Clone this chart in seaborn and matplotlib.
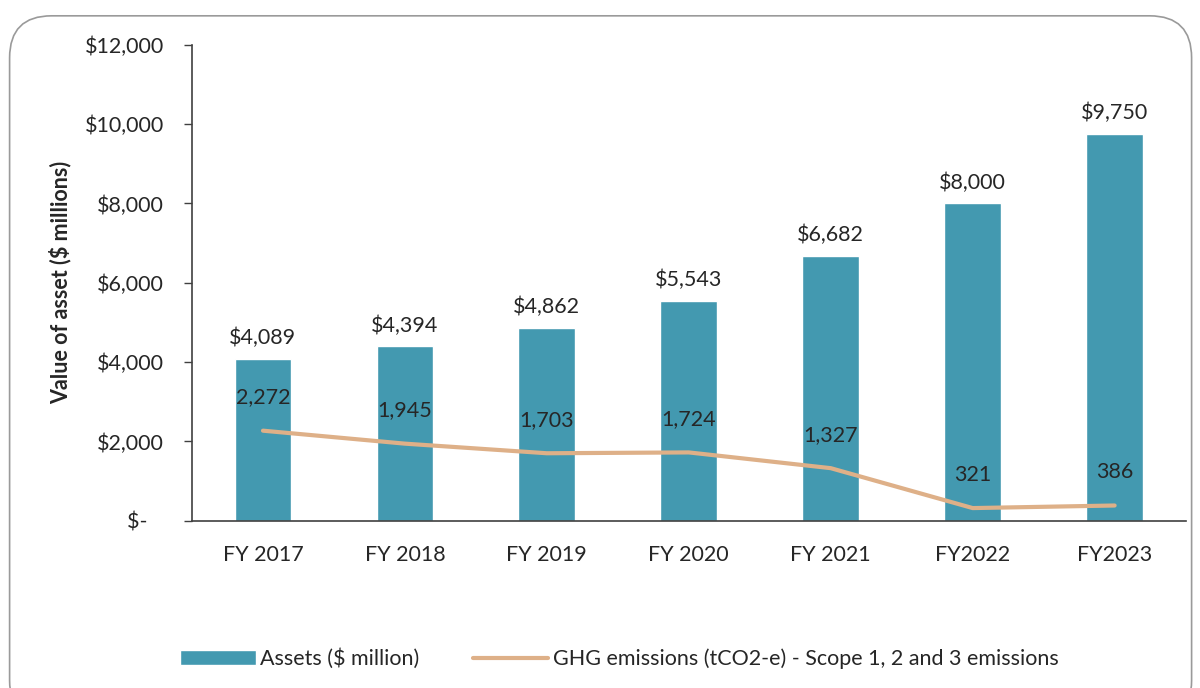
import matplotlib.pyplot as plt
import seaborn as sns
import pandas as pd
from matplotlib.patches import FancyBboxPatch
from matplotlib.ticker import FuncFormatter

years = ['FY 2017', 'FY 2018', 'FY 2019', 'FY 2020', 'FY 2021', 'FY2022', 'FY2023']
assets = [4089, 4394, 4862, 5543, 6682, 8000, 9750]
ghg = [2272, 1945, 1703, 1724, 1327, 321, 386]

bar_color = '#4399B0'
line_color = '#DEB088'

sns.set_style("white")
plt.rcParams['font.family'] = ['Lato', 'DejaVu Sans']
fs = 15.5

df = pd.DataFrame({'year': years, 'assets': assets, 'ghg': ghg})

fig = plt.figure(figsize=(12, 6.88), dpi=100)
ax = fig.add_axes([0.16, 0.243, 0.828, 0.692])

sns.barplot(data=df, x='year', y='assets', color=bar_color, width=0.4,
            saturation=1, ax=ax, label='Assets ($ million)')
sns.lineplot(x=range(len(years)), y=ghg, color=line_color, linewidth=3,
             ax=ax, label='GHG emissions (tCO2-e) - Scope 1, 2 and 3 emissions')

for i, v in enumerate(assets):
    ax.annotate(f'${v:,}', (i, v), xytext=(0, 15), textcoords='offset points',
                ha='center', va='center', fontsize=fs)
for i, v in enumerate(ghg):
    ax.annotate(f'{v:,}', (i, v), xytext=(0, 24), textcoords='offset points',
                ha='center', va='center', fontsize=fs)

ax.set_ylim(0, 12000)
ax.set_xlim(-0.5, len(years) - 0.5)
ax.set_yticks(range(0, 12001, 2000))
ax.yaxis.set_major_formatter(FuncFormatter(lambda v, p: '$-   ' if v == 0 else f'${v:,.0f}'))
ax.tick_params(axis='y', left=True, length=6, width=1, color='#404040', labelsize=fs, pad=14)
ax.tick_params(axis='x', bottom=False, labelsize=fs, pad=14)
ax.set_xlabel('')
ax.set_ylabel('Value of asset ($ millions)', fontsize=fs, fontweight='bold', labelpad=10)
for s in ['top', 'right']:
    ax.spines[s].set_visible(False)
for s in ['left', 'bottom']:
    ax.spines[s].set_color('#404040')
    ax.spines[s].set_linewidth(1.2)

handles, labels = ax.get_legend_handles_labels()
order = [labels.index('Assets ($ million)'),
         labels.index('GHG emissions (tCO2-e) - Scope 1, 2 and 3 emissions')]
ax.legend([handles[i] for i in order], [labels[i] for i in order],
          loc='center', bbox_to_anchor=(0.43, -0.29), ncol=2, frameon=False,
          fontsize=fs, columnspacing=2.5, handlelength=3.5, handletextpad=0.2)

border = FancyBboxPatch((0.008, -0.05), 0.985, 1.027, transform=fig.transFigure,
                        boxstyle='round,pad=0,rounding_size=0.035',
                        facecolor='none', edgecolor='#9a9a9a', linewidth=1.2,
                        mutation_aspect=1200 / 688)
fig.patches.append(border)

fig.savefig('out.png', dpi=100)
